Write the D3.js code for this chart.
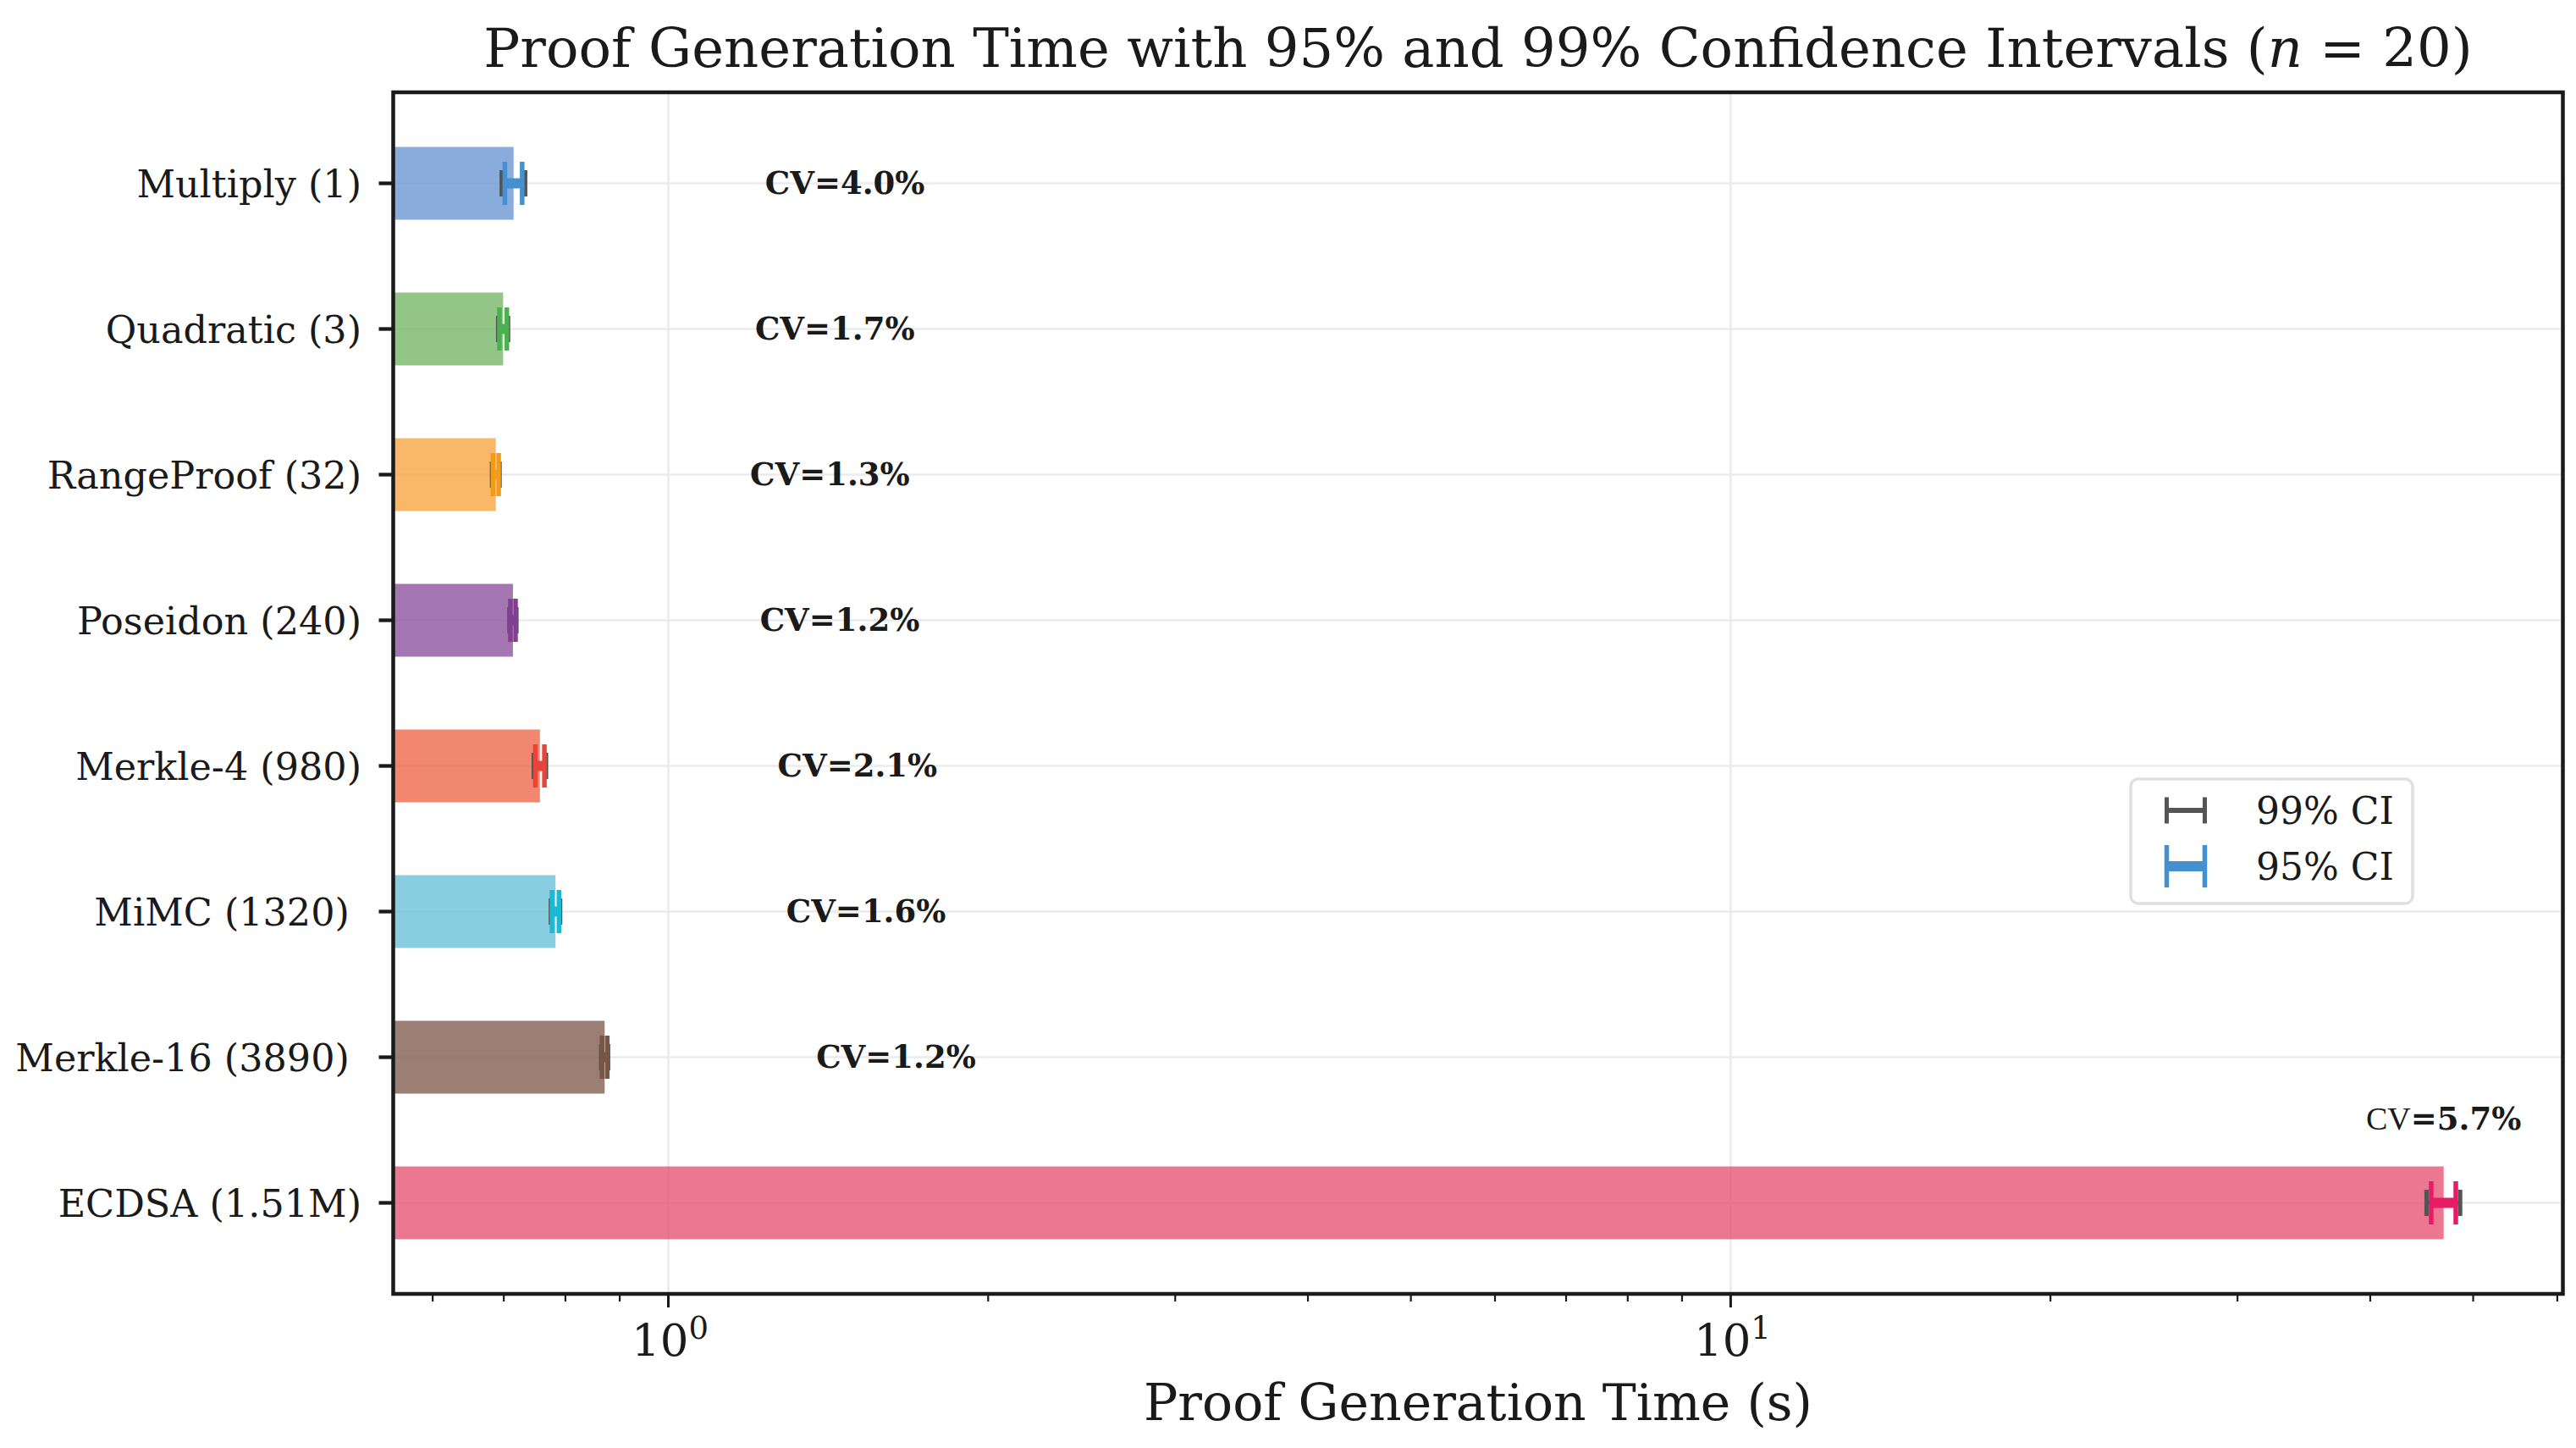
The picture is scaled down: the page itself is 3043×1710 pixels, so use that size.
<!DOCTYPE html>
<html>
<head>
<meta charset="utf-8">
<script src="https://cdn.jsdelivr.net/npm/d3@7"></script>
<style>
  body { margin: 0; background: #fff; }
  text { font-family: "DejaVu Serif", serif; fill: #1a1a1a; }
</style>
</head>
<body>
<svg id="chart"></svg>
<script>
// values
const categories = ["Multiply (1)", "Quadratic (3)", "RangeProof (32)", "Poseidon (240)",
    "Merkle-4 (980)", "MiMC (1320) ", "Merkle-16 (3890) ", "ECDSA (1.51M)"];
const meanTimes = [0.715, 0.699, 0.688, 0.714, 0.757, 0.783, 0.871, 46.9];
const cvPercent = [4.0, 1.7, 1.3, 1.2, 2.1, 1.6, 1.2, 5.7];
const ci95Half = [0.0134, 0.0056, 0.0042, 0.0040, 0.0074, 0.0059, 0.0049, 1.25];
const ci99Half = [0.0183, 0.0076, 0.0057, 0.0055, 0.0102, 0.0080, 0.0067, 1.71];
const barColors = ["#6d97d3", "#78b868", "#f8a542", "#8f559f", "#ec694a", "#6cc1d8", "#825f51", "#e75574"];
const errColors = ["#4590ce", "#4caf50", "#f39c1a", "#843f92", "#e8453a", "#1cb9d4", "#795548", "#e61d65"];
const xLimits = [0.5508, 60.73];
const majorTicks = [1, 10];
const legendLabels = ["99% CI", "95% CI"];

const W = 3043, H = 1710;
const margin = { top: 109, right: W - 3027.5, bottom: H - 1528, left: 464.5 };

const svg = d3.select("#chart").attr("width", W).attr("height", H);

const x = d3.scaleLog().domain(xLimits).range([margin.left, W - margin.right]);
const y = d3.scaleBand().domain(categories).range([margin.top, H - margin.bottom])
    .paddingInner(0.5).paddingOuter(0.375);
const yc = d => y(d) + y.bandwidth() / 2;

// grid
const grid = svg.append("g");
grid.selectAll(".gx").data(majorTicks).enter().append("line")
    .attr("x1", d => x(d)).attr("x2", d => x(d))
    .attr("y1", margin.top).attr("y2", H - margin.bottom)
    .attr("stroke", "#ebebeb").attr("stroke-width", 2.5);
grid.selectAll(".gy").data(categories).enter().append("line")
    .attr("x1", margin.left).attr("x2", W - margin.right)
    .attr("y1", d => yc(d)).attr("y2", d => yc(d))
    .attr("stroke", "#ebebeb").attr("stroke-width", 2.5);

// bars
svg.append("g").selectAll("rect").data(categories).enter().append("rect")
    .attr("x", margin.left)
    .attr("y", d => y(d))
    .attr("width", (d, i) => x(meanTimes[i]) - margin.left)
    .attr("height", y.bandwidth())
    .attr("fill", (d, i) => barColors[i])
    .attr("fill-opacity", 0.8);

// error bars: 99% (grey, behind) then 95% (coloured, thick)
function errBar(g, cx, cy, half, color, lineW, capH, capW) {
    const x0 = x(cx - half), x1 = x(cx + half);
    g.append("line").attr("x1", x0).attr("x2", x1).attr("y1", cy).attr("y2", cy)
        .attr("stroke", color).attr("stroke-width", lineW);
    [x0, x1].forEach(xx => g.append("line")
        .attr("x1", xx).attr("x2", xx).attr("y1", cy - capH / 2).attr("y2", cy + capH / 2)
        .attr("stroke", color).attr("stroke-width", capW));
}
const errG = svg.append("g");
categories.forEach((c, i) => {
    errBar(errG, meanTimes[i], yc(c), ci99Half[i], "#555555", 6, 31, 5);
    errBar(errG, meanTimes[i], yc(c), ci95Half[i], errColors[i], 12, 51, 5.5);
});

// CV labels: right of the 99% CI, or above the bar for the long one
const cvG = svg.append("g");
categories.forEach((c, i) => {
    if (meanTimes[i] < 10) {
        cvG.append("text").attr("x", x(meanTimes[i] + ci99Half[i] + 0.5)).attr("y", yc(c) + 12)
            .attr("font-size", 37).attr("font-weight", "bold")
            .text(`CV=${cvPercent[i].toFixed(1)}%`);
    } else {
        const t = cvG.append("text").attr("x", x(meanTimes[i])).attr("y", yc(c) - 87)
            .attr("text-anchor", "middle");
        t.append("tspan").attr("font-family", "Liberation Serif").attr("font-size", 38).text("CV");
        t.append("tspan").attr("font-size", 37).attr("font-weight", "bold")
            .text(`=${cvPercent[i].toFixed(1)}%`);
    }
});

// spines
svg.append("rect")
    .attr("x", margin.left).attr("y", margin.top)
    .attr("width", W - margin.left - margin.right).attr("height", H - margin.top - margin.bottom)
    .attr("fill", "none").attr("stroke", "#1a1a1a").attr("stroke-width", 4.5);

// x ticks
const bottomY = H - margin.bottom;
const allTicks = x.ticks().filter(t => t >= xLimits[0] && t <= xLimits[1]);
const isMajor = t => Math.abs(Math.log10(t) - Math.round(Math.log10(t))) < 1e-9;
svg.append("g").selectAll("line").data(allTicks).enter().append("line")
    .attr("x1", d => x(d)).attr("x2", d => x(d))
    .attr("y1", bottomY + 2).attr("y2", d => bottomY + (isMajor(d) ? 16 : 9))
    .attr("stroke", "#1a1a1a").attr("stroke-width", d => isMajor(d) ? 3 : 2.2);
const xl = svg.append("g").selectAll("text").data(majorTicks).enter().append("text")
    .attr("x", d => x(d) + 2).attr("y", 1601).attr("text-anchor", "middle").attr("font-size", 53);
xl.append("tspan").text("10");
xl.append("tspan").attr("font-size", 37).attr("dy", -20).text(d => Math.round(Math.log10(d)));

// y ticks
svg.append("g").selectAll("line").data(categories).enter().append("line")
    .attr("x1", margin.left - 17).attr("x2", margin.left)
    .attr("y1", d => yc(d)).attr("y2", d => yc(d))
    .attr("stroke", "#1a1a1a").attr("stroke-width", 4.3);
svg.append("g").selectAll("text").data(categories).enter().append("text")
    .attr("xml:space", "preserve")
    .attr("x", 427).attr("y", d => yc(d) + 16)
    .attr("text-anchor", "end").attr("font-size", 44.5)
    .text(d => d);

// axis label + title
svg.append("text").attr("x", (margin.left + W - margin.right) / 2).attr("y", 1677)
    .attr("text-anchor", "middle").attr("font-size", 60).text("Proof Generation Time (s)");
const title = svg.append("text").attr("xml:space", "preserve")
    .attr("x", (margin.left + W - margin.right) / 2).attr("y", 79)
    .attr("text-anchor", "middle").attr("font-size", 64);
title.append("tspan").text("Proof Generation Time with 95% and 99% Confidence Intervals (");
title.append("tspan").attr("font-style", "italic").text("n");
title.append("tspan").text(" = 20)");

// legend
const lg = svg.append("g");
lg.append("rect").attr("x", 2517).attr("y", 920).attr("width", 333).attr("height", 147)
    .attr("rx", 9).attr("fill", "#fff").attr("stroke", "#e0e0e0").attr("stroke-width", 3.5);
const legendStyle = [
    { color: "#555555", lineW: 6, capH: 31, capW: 5 },
    { color: errColors[0], lineW: 12, capH: 50, capW: 5.5 }
];
legendLabels.forEach((lab, i) => {
    const cy = 957 + i * 66;
    const s = legendStyle[i];
    const g = lg.append("g");
    g.append("line").attr("x1", 2557).attr("x2", 2607).attr("y1", cy).attr("y2", cy)
        .attr("stroke", s.color).attr("stroke-width", s.lineW);
    [2559.5, 2604.5].forEach(xx => g.append("line").attr("x1", xx).attr("x2", xx)
        .attr("y1", cy - s.capH / 2).attr("y2", cy + s.capH / 2)
        .attr("stroke", s.color).attr("stroke-width", s.capW));
    lg.append("text").attr("x", 2665).attr("y", cy + 15.5).attr("font-size", 44).text(lab);
});
</script>
</body>
</html>
